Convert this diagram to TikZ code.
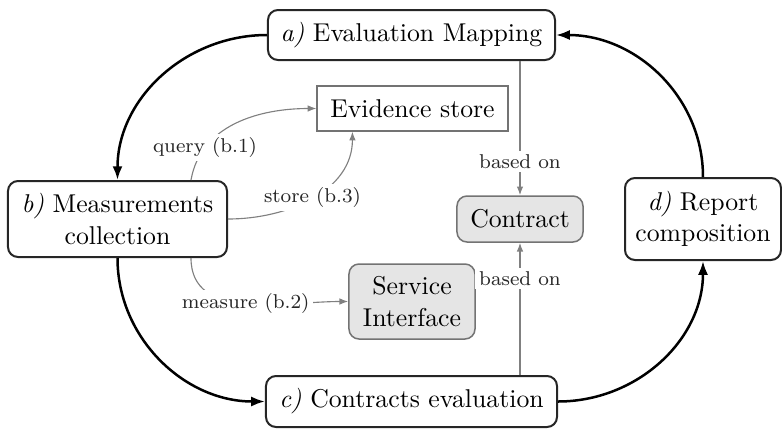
\documentclass[tikz,border=0pt]{standalone}
\usetikzlibrary{arrows.meta}
\begin{document}
\begin{tikzpicture}[x=0.4pt,y=-0.4pt,
  every node/.style={font=\fontsize{10.3}{12.6}\selectfont},
  stage/.style={draw=black!85, line width=0.8pt, rounded corners=4pt, fill=white,
    align=center, inner sep=2pt},
  artifact/.style={draw=black!55, line width=0.6pt, rounded corners=4pt, fill=black!10,
    align=center, inner sep=2pt},
  storebox/.style={draw=black!55, line width=0.45pt, fill=white, inner sep=2pt},
  flow/.style={line width=1pt, -{Latex[length=5.5pt,width=4pt]}},
  link/.style={draw=black!50, line width=0.45pt, -{Latex[length=3.5pt,width=2.6pt]}},
  tag/.style={font=\footnotesize, fill=white, text=black!85, inner sep=1.5pt}
]
\useasboundingbox (0,0) rectangle (782,429);

% process stages
\node[stage, minimum width=114.8pt, minimum height=20pt] (a) at (411.5,35)
  {\textit{a)} Evaluation Mapping};
\node[stage, minimum width=87.6pt, minimum height=30.4pt] (b) at (117.5,219)
  {\textit{b)} Measurements\\collection};
\node[stage, minimum width=116.4pt, minimum height=20.4pt] (c) at (411.5,401.5)
  {\textit{c)} Contracts evaluation};
\node[stage, minimum width=62.4pt, minimum height=32.8pt] (d) at (703,219)
  {\textit{d)} Report\\composition};

% artifacts
\node[storebox, minimum width=76.4pt, minimum height=18pt] (ev) at (412.5,108.5)
  {Evidence store};
\node[artifact, minimum width=50.4pt, minimum height=18.4pt] (ct) at (520,219)
  {Contract};
\node[artifact, minimum width=50.4pt, minimum height=30pt] (si) at (412,301.5)
  {Service\\Interface};

% main cycle
\draw[flow] (a.west) to[out=180,in=90] (b.north);
\draw[flow] (b.south) to[out=-90,in=180] (c.west);
\draw[flow] (c.east) to[out=0,in=-90] (d.south);
\draw[flow] (d.north) to[out=90,in=0] (a.east);

% measurement sub-steps
\draw[link] ([xshift=-14.8pt]b.north east) to[out=80,in=180]
  node[tag,pos=0.23]{query (b.1)} (ev.west);
\draw[link] ([xshift=-14.8pt]b.south east) to[out=-90,in=180]
  node[tag,pos=0.5]{measure (b.2)} (si.west);
\draw[link] (b.east) to[out=0,in=-90]
  node[tag,pos=0.5]{store (b.3)} ([xshift=14.4pt]ev.south west);

% contract dependencies
\draw[link] (a.south -| ct.north) -- node[tag,pos=0.75]{based on} (ct.north);
\draw[link] (c.north -| ct.south) -- node[tag,pos=0.73]{based on} (ct.south);
\end{tikzpicture}
\end{document}
